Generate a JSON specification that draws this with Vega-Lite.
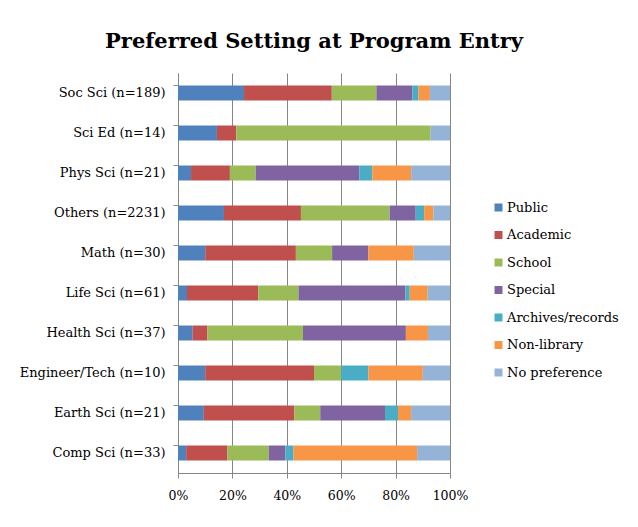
{
  "$schema": "https://vega.github.io/schema/vega-lite/v6.json",
  "autosize": {"type": "none"},
  "padding": {"left": 178, "top": 73, "right": 188, "bottom": 54},
  "width": 272,
  "height": 400,
  "background": "white",
  "title": {
    "text": "Preferred Setting at Program Entry",
    "font": "DejaVu Serif",
    "fontSize": 21,
    "fontWeight": "bold",
    "color": "#000000",
    "anchor": "middle",
    "offset": 21
  },
  "data": {
    "values": [
      {"field": "Soc Sci (n=189)", "setting": "Public", "k": 1, "pct": 24.3},
      {"field": "Soc Sci (n=189)", "setting": "Academic", "k": 2, "pct": 32.3},
      {"field": "Soc Sci (n=189)", "setting": "School", "k": 3, "pct": 16.4},
      {"field": "Soc Sci (n=189)", "setting": "Special", "k": 4, "pct": 13.2},
      {"field": "Soc Sci (n=189)", "setting": "Archives/records", "k": 5, "pct": 2.3},
      {"field": "Soc Sci (n=189)", "setting": "Non-library", "k": 6, "pct": 4.2},
      {"field": "Soc Sci (n=189)", "setting": "No preference", "k": 7, "pct": 7.4},

      {"field": "Sci Ed (n=14)", "setting": "Public", "k": 1, "pct": 14.3},
      {"field": "Sci Ed (n=14)", "setting": "Academic", "k": 2, "pct": 7.1},
      {"field": "Sci Ed (n=14)", "setting": "School", "k": 3, "pct": 71.4},
      {"field": "Sci Ed (n=14)", "setting": "No preference", "k": 7, "pct": 7.1},

      {"field": "Phys Sci (n=21)", "setting": "Public", "k": 1, "pct": 4.8},
      {"field": "Phys Sci (n=21)", "setting": "Academic", "k": 2, "pct": 14.3},
      {"field": "Phys Sci (n=21)", "setting": "School", "k": 3, "pct": 9.5},
      {"field": "Phys Sci (n=21)", "setting": "Special", "k": 4, "pct": 38.1},
      {"field": "Phys Sci (n=21)", "setting": "Archives/records", "k": 5, "pct": 4.8},
      {"field": "Phys Sci (n=21)", "setting": "Non-library", "k": 6, "pct": 14.3},
      {"field": "Phys Sci (n=21)", "setting": "No preference", "k": 7, "pct": 14.3},

      {"field": "Others (n=2231)", "setting": "Public", "k": 1, "pct": 16.9},
      {"field": "Others (n=2231)", "setting": "Academic", "k": 2, "pct": 28.3},
      {"field": "Others (n=2231)", "setting": "School", "k": 3, "pct": 32.6},
      {"field": "Others (n=2231)", "setting": "Special", "k": 4, "pct": 9.6},
      {"field": "Others (n=2231)", "setting": "Archives/records", "k": 5, "pct": 3.1},
      {"field": "Others (n=2231)", "setting": "Non-library", "k": 6, "pct": 3.4},
      {"field": "Others (n=2231)", "setting": "No preference", "k": 7, "pct": 6.1},

      {"field": "Math (n=30)", "setting": "Public", "k": 1, "pct": 10.0},
      {"field": "Math (n=30)", "setting": "Academic", "k": 2, "pct": 33.3},
      {"field": "Math (n=30)", "setting": "School", "k": 3, "pct": 13.3},
      {"field": "Math (n=30)", "setting": "Special", "k": 4, "pct": 13.3},
      {"field": "Math (n=30)", "setting": "Non-library", "k": 6, "pct": 16.7},
      {"field": "Math (n=30)", "setting": "No preference", "k": 7, "pct": 13.3},

      {"field": "Life Sci (n=61)", "setting": "Public", "k": 1, "pct": 3.3},
      {"field": "Life Sci (n=61)", "setting": "Academic", "k": 2, "pct": 26.2},
      {"field": "Life Sci (n=61)", "setting": "School", "k": 3, "pct": 14.8},
      {"field": "Life Sci (n=61)", "setting": "Special", "k": 4, "pct": 39.3},
      {"field": "Life Sci (n=61)", "setting": "Archives/records", "k": 5, "pct": 1.6},
      {"field": "Life Sci (n=61)", "setting": "Non-library", "k": 6, "pct": 6.6},
      {"field": "Life Sci (n=61)", "setting": "No preference", "k": 7, "pct": 8.2},

      {"field": "Health Sci (n=37)", "setting": "Public", "k": 1, "pct": 5.4},
      {"field": "Health Sci (n=37)", "setting": "Academic", "k": 2, "pct": 5.4},
      {"field": "Health Sci (n=37)", "setting": "School", "k": 3, "pct": 35.1},
      {"field": "Health Sci (n=37)", "setting": "Special", "k": 4, "pct": 37.8},
      {"field": "Health Sci (n=37)", "setting": "Non-library", "k": 6, "pct": 8.1},
      {"field": "Health Sci (n=37)", "setting": "No preference", "k": 7, "pct": 8.1},

      {"field": "Engineer/Tech (n=10)", "setting": "Public", "k": 1, "pct": 10},
      {"field": "Engineer/Tech (n=10)", "setting": "Academic", "k": 2, "pct": 40},
      {"field": "Engineer/Tech (n=10)", "setting": "School", "k": 3, "pct": 10},
      {"field": "Engineer/Tech (n=10)", "setting": "Archives/records", "k": 5, "pct": 10},
      {"field": "Engineer/Tech (n=10)", "setting": "Non-library", "k": 6, "pct": 20},
      {"field": "Engineer/Tech (n=10)", "setting": "No preference", "k": 7, "pct": 10},

      {"field": "Earth Sci (n=21)", "setting": "Public", "k": 1, "pct": 9.5},
      {"field": "Earth Sci (n=21)", "setting": "Academic", "k": 2, "pct": 33.3},
      {"field": "Earth Sci (n=21)", "setting": "School", "k": 3, "pct": 9.5},
      {"field": "Earth Sci (n=21)", "setting": "Special", "k": 4, "pct": 23.8},
      {"field": "Earth Sci (n=21)", "setting": "Archives/records", "k": 5, "pct": 4.8},
      {"field": "Earth Sci (n=21)", "setting": "Non-library", "k": 6, "pct": 4.8},
      {"field": "Earth Sci (n=21)", "setting": "No preference", "k": 7, "pct": 14.3},

      {"field": "Comp Sci (n=33)", "setting": "Public", "k": 1, "pct": 3.0},
      {"field": "Comp Sci (n=33)", "setting": "Academic", "k": 2, "pct": 15.2},
      {"field": "Comp Sci (n=33)", "setting": "School", "k": 3, "pct": 15.2},
      {"field": "Comp Sci (n=33)", "setting": "Special", "k": 4, "pct": 6.1},
      {"field": "Comp Sci (n=33)", "setting": "Archives/records", "k": 5, "pct": 3.0},
      {"field": "Comp Sci (n=33)", "setting": "Non-library", "k": 6, "pct": 45.5},
      {"field": "Comp Sci (n=33)", "setting": "No preference", "k": 7, "pct": 12.1}
    ]
  },
  "mark": {"type": "bar"},
  "encoding": {
    "y": {
      "field": "field",
      "type": "nominal",
      "sort": ["Soc Sci (n=189)", "Sci Ed (n=14)", "Phys Sci (n=21)", "Others (n=2231)", "Math (n=30)", "Life Sci (n=61)", "Health Sci (n=37)", "Engineer/Tech (n=10)", "Earth Sci (n=21)", "Comp Sci (n=33)"],
      "scale": {"paddingInner": 0.625, "paddingOuter": 0.3125},
      "axis": {
        "title": null,
        "grid": false,
        "bandPosition": 0,
        "domainColor": "#868686",
        "tickColor": "#868686",
        "tickSize": 5,
        "labelFont": "DejaVu Serif",
        "labelFontSize": 13,
        "labelColor": "#000000",
        "labelPadding": 8,
        "labelBound": false
      }
    },
    "x": {
      "field": "pct",
      "type": "quantitative",
      "stack": "normalize",
      "scale": {"domain": [0, 1], "nice": false},
      "axis": {
        "title": null,
        "format": ".0%",
        "values": [0, 0.2, 0.4, 0.6, 0.8, 1],
        "grid": true,
        "gridColor": "#868686",
        "domainColor": "#868686",
        "tickColor": "#868686",
        "tickSize": 5,
        "labelFont": "DejaVu Serif",
        "labelFontSize": 12.5,
        "labelColor": "#000000",
        "labelPadding": 11,
        "labelFlush": false
      }
    },
    "order": {"field": "k", "type": "quantitative"},
    "color": {
      "field": "setting",
      "type": "nominal",
      "scale": {
        "domain": ["Public", "Academic", "School", "Special", "Archives/records", "Non-library", "No preference"],
        "range": ["#4F81BD", "#C0504D", "#9BBB59", "#8064A2", "#4BACC6", "#F79646", "#95B3D7"]
      },
      "legend": {
        "title": null,
        "orient": "none",
        "legendX": 314,
        "legendY": 128,
        "padding": 0,
        "symbolType": "square",
        "symbolSize": 64,
        "symbolStrokeWidth": 0,
        "labelFont": "DejaVu Serif",
        "labelFontSize": 13,
        "labelColor": "#000000",
        "labelOffset": 2,
        "rowPadding": 13.5
      }
    }
  },
  "config": {
    "view": {"stroke": null},
    "axis": {"domainWidth": 1, "tickWidth": 1, "gridWidth": 1}
  }
}
